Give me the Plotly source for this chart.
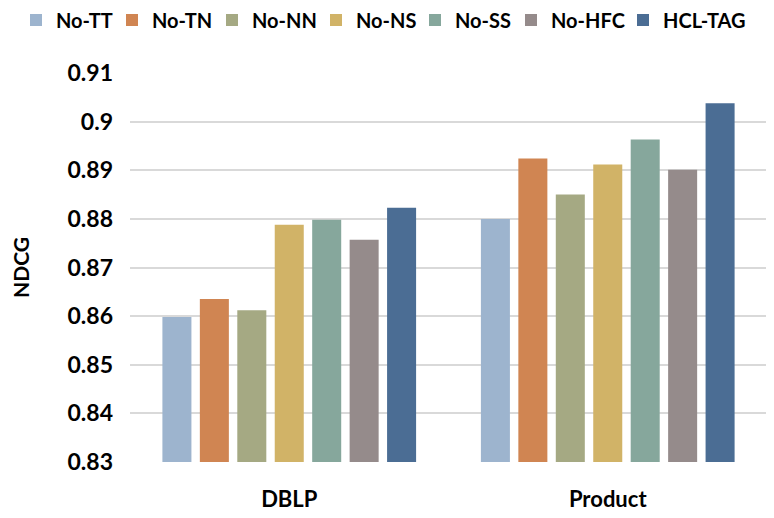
import plotly.graph_objects as go

datasets = ["DBLP", "Product"]
variants = ["No-TT", "No-TN", "No-NN", "No-NS", "No-SS", "No-HFC", "HCL-TAG"]
ndcg = {
    "No-TT": [0.8598, 0.8800],
    "No-TN": [0.8635, 0.8924],
    "No-NN": [0.8612, 0.8850],
    "No-NS": [0.8788, 0.8912],
    "No-SS": [0.8798, 0.8963],
    "No-HFC": [0.8757, 0.8901],
    "HCL-TAG": [0.8823, 0.9038],
}
colors = ["#9DB4CE", "#D08552", "#A5A983", "#D1B367", "#86A79C", "#958B8B", "#4B6D94"]
y_ticks = [0.83, 0.84, 0.85, 0.86, 0.87, 0.88, 0.89, 0.9, 0.91]

fnt = "Lato, Open Sans, sans-serif"

# page body has an 8px margin, so the figure is a bit smaller than the window
W, H = 766, 510
L, R, T, B = 122, 7, 65, 56
plot_w = W - L - R

# left edge (px, in the window) of each legend swatch, one legend per series
swatch_x = [30, 126, 226, 330, 429, 525, 637]

fig = go.Figure()
legend_layouts = {}
for i, (name, col) in enumerate(zip(variants, colors)):
    key = "legend" if i == 0 else "legend%d" % (i + 1)
    fig.add_trace(go.Bar(x=datasets, y=ndcg[name], name=name, marker_color=col,
                         marker_line_width=0, legend=key))
    legend_layouts[key] = dict(
        orientation="h", x=(swatch_x[i] - 8 - 14 - L) / plot_w, xanchor="left",
        y=1.136, yanchor="middle", bgcolor="rgba(0,0,0,0)",
        font=dict(family=fnt, size=20, color="black", weight="bold"),
        itemwidth=30)

fig.update_layout(
    width=W, height=H,
    margin=dict(l=L, r=R, t=T, b=B, autoexpand=False),
    paper_bgcolor="white", plot_bgcolor="white",
    barmode="group", bargap=0.177, bargroupgap=0.225,
    font=dict(family=fnt, size=22, color="black", weight="bold"),
    showlegend=True,
    **legend_layouts,
)
fig.update_yaxes(range=[0.83, 0.91], tickvals=y_ticks,
                 ticktext=[str(v) for v in y_ticks],
                 showgrid=True, gridcolor="#D9D9D9", gridwidth=2,
                 zeroline=False, showline=False, ticklabelstandoff=16,
                 tickfont=dict(family=fnt, size=23, weight="bold"),
                 title=dict(text="NDCG", standoff=34,
                            font=dict(family=fnt, size=21, weight="bold")))
fig.update_xaxes(showline=False, ticklabelstandoff=22,
                 tickfont=dict(family=fnt, size=22, weight="bold"))

fig.write_html("out.html")
